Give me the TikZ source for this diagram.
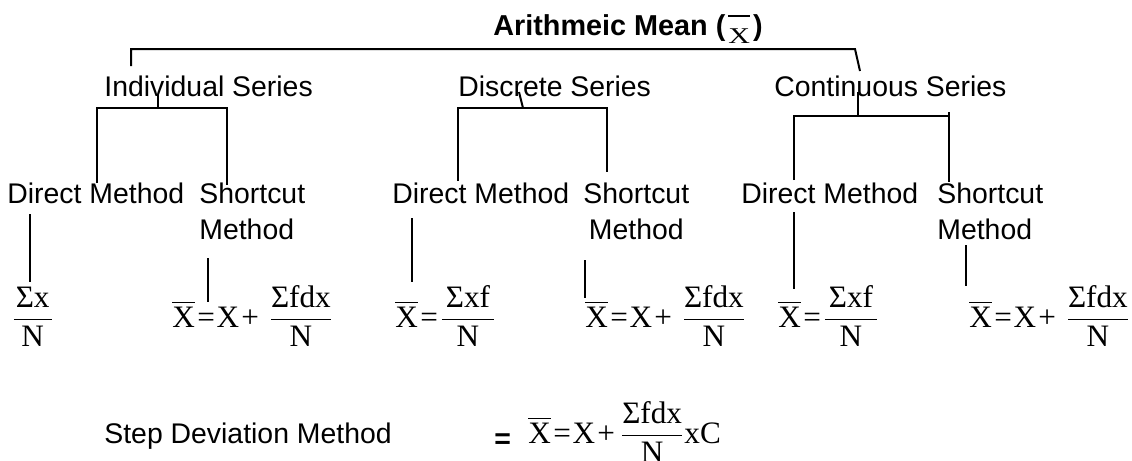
\documentclass[tikz,border=0pt]{standalone}
\usepackage{fontspec}
\usepackage{amsmath}
\usepackage{graphicx}
\setmainfont{Liberation Serif}
\newfontfamily\arial{Liberation Sans}
\newcommand{\xbar}{\overline{\text{X}}}
\newcommand{\tx}[1]{\text{#1}}
\tikzset{
  lbl/.style={anchor=base west, inner sep=0pt, font=\arial\fontsize{14.2}{18}\selectfont},
  frm/.style={anchor=base west, inner sep=0pt, font=\fontsize{15.6}{19}\selectfont},
  conn/.style={line width=1pt, line cap=butt, line join=miter}
}
\begin{document}
\begin{tikzpicture}[x=0.5pt, y=-0.5pt]
\useasboundingbox (0,0) rectangle (1132,461);

% title
\node[lbl, font=\arial\bfseries\fontsize{14.4}{18}\selectfont] (title) at (493,35)
  {Arithmeic Mean (\hspace{1.5pt}\raisebox{-4pt}{$\overline{\rule{0pt}{11.5pt}\text{\normalfont\fontsize{15}{18}\selectfont\scalebox{1}[0.75]{X}}}$}\hspace{1.5pt})};

% series
\node[lbl] (ind) at (104,96) {Individual Series};
\node[lbl] (dis) at (458,96) {Discrete Series};
\node[lbl] (con) at (774,96) {Continuous Series};

% methods (two-line nodes are anchored on their last line)
\node[lbl] (idm) at (7,203) {Direct Method};
\node[lbl, align=left] (ism) at (199,239) {Shortcut\\Method};
\node[lbl] (ddm) at (392,203) {Direct Method};
\node[lbl, align=center] (dsm) at (583,239) {Shortcut\\Method};
\node[lbl] (cdm) at (741,203) {Direct Method};
\node[lbl, align=left] (csm) at (937,239) {Shortcut\\Method};

% formulas
\node[frm] (f1) at (11,327) {$\dfrac{\tx{\hspace{1pt}Σx\hspace{1pt}}}{\tx{N}}$};
\node[frm] (f2) at (172,327) {$\xbar\mskip1.5mu\tx{=}\mskip1mu\tx{X}\mskip1.5mu\tx{+}\mskip6mu\dfrac{\tx{Σfdx}}{\tx{N}}$};
\node[frm] (f3) at (395,327) {$\xbar\mskip1.5mu\tx{=}\mskip1mu\dfrac{\tx{\hspace{2pt}Σxf\hspace{2pt}}}{\tx{N}}$};
\node[frm] (f4) at (585,327) {$\xbar\mskip1.5mu\tx{=}\mskip1mu\tx{X}\mskip1.5mu\tx{+}\mskip6mu\dfrac{\tx{Σfdx}}{\tx{N}}$};
\node[frm] (f5) at (778,327) {$\xbar\mskip1.5mu\tx{=}\mskip1mu\dfrac{\tx{\hspace{2pt}Σxf\hspace{2pt}}}{\tx{N}}$};
\node[frm] (f6) at (969,327) {$\xbar\mskip1.5mu\tx{=}\mskip1mu\tx{X}\mskip1.5mu\tx{+}\mskip6mu\dfrac{\tx{Σfdx}}{\tx{N}}$};

% step deviation
\node[lbl] (sdm) at (104,443) {Step Deviation Method};
\node[lbl, font=\arial\bfseries\fontsize{14.2}{18}\selectfont] (eq) at (494,448) {=};
\node[frm] (f7) at (528,443) {$\xbar\mskip1.5mu\tx{=}\mskip1mu\tx{X}\mskip1.5mu\tx{+}\mskip3mu\dfrac{\tx{Σfdx}}{\tx{N}}\tx{xC}$};

% connector coordinates
\coordinate (ta) at (131,66);  \coordinate (tb) at (131,49);
\coordinate (tc) at (855,49);  \coordinate (td) at (860,71);

\coordinate (ia) at (158,95);  \coordinate (ib) at (158,108);
\coordinate (ic) at (97,183);  \coordinate (id) at (97,108);
\coordinate (ie) at (227,108); \coordinate (if) at (227,185);

\coordinate (da) at (519,92);  \coordinate (db) at (523,108);
\coordinate (dc) at (458,181); \coordinate (dd) at (458,108);
\coordinate (de) at (607,108); \coordinate (df) at (607,172);

\coordinate (ca) at (858,92);  \coordinate (cb) at (858,116);
\coordinate (cc) at (794,180); \coordinate (cd) at (794,116);
\coordinate (ce) at (950,116); \coordinate (cf) at (949,112); \coordinate (cg) at (949,182);

\coordinate (m1a) at (30,214);  \coordinate (m1b) at (30,282);
\coordinate (m2a) at (208,258); \coordinate (m2b) at (208,302);
\coordinate (m3a) at (412,218); \coordinate (m3b) at (412,282);
\coordinate (m4a) at (585,260); \coordinate (m4b) at (585,298);
\coordinate (m5a) at (794,212); \coordinate (m5b) at (794,289);
\coordinate (m6a) at (966,245); \coordinate (m6b) at (966,286);

\draw[conn] (ta) -- (tb) -- (tc) -- (td);
\draw[conn] (ia) -- (ib);
\draw[conn] (ic) -- (id) -- (ie) -- (if);
\draw[conn] (da) -- (db);
\draw[conn] (dc) -- (dd) -- (de) -- (df);
\draw[conn] (ca) -- (cb);
\draw[conn] (cc) -- (cd) -- (ce);
\draw[conn] (cf) -- (cg);

\draw[conn] (m1a) -- (m1b);
\draw[conn] (m2a) -- (m2b);
\draw[conn] (m3a) -- (m3b);
\draw[conn] (m4a) -- (m4b);
\draw[conn] (m5a) -- (m5b);
\draw[conn] (m6a) -- (m6b);
\end{tikzpicture}
\end{document}
